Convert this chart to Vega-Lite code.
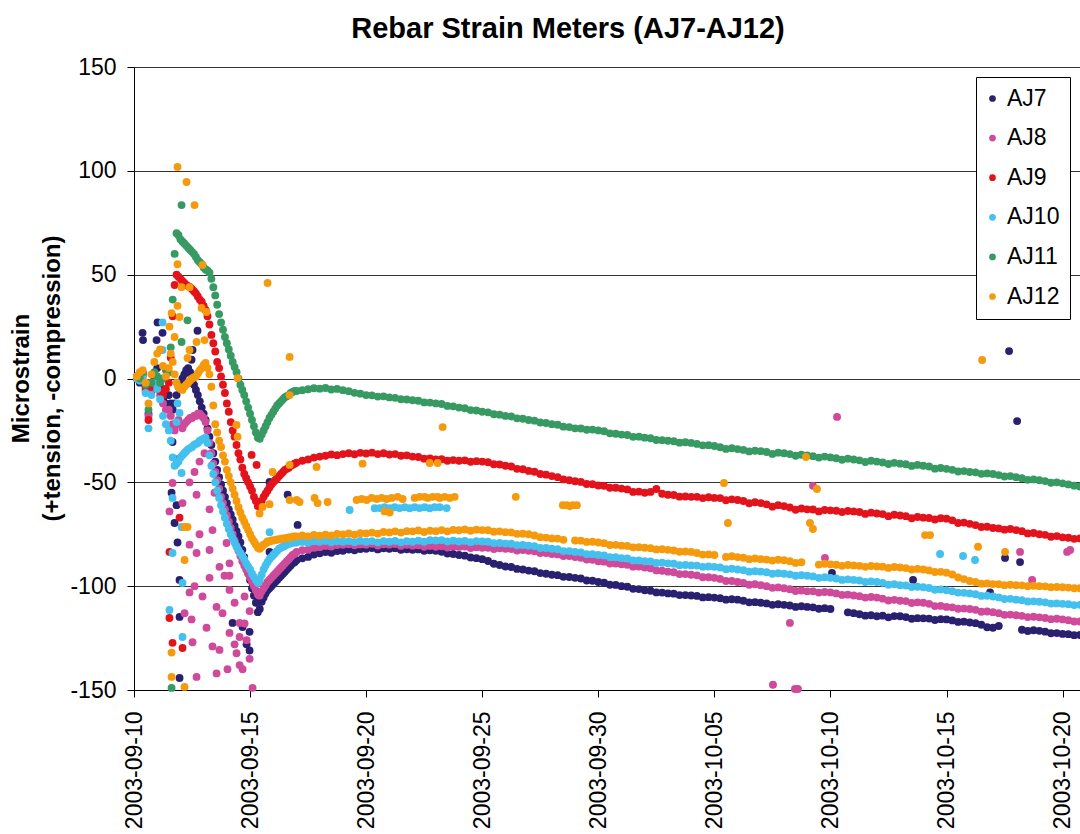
{
"$schema":"https://vega.github.io/schema/vega-lite/v6.json",
"width":946,"height":623,
"autosize":{"type":"none"},
"padding":{"left":134,"top":67,"right":0,"bottom":144},
"background":"white",
"title":{"text":"Rebar Strain Meters (AJ7-AJ12)","fontSize":29,"fontWeight":"bold","color":"black","anchor":"middle","frame":"group","dx":-39,"offset":12},
"data":{"values":[
{"t":"2003-09-10T03:00","AJ7":0,"AJ8":0,"AJ9":1,"AJ10":0,"AJ11":1,"AJ12":1},
{"t":"2003-09-10T06:00","AJ7":-2,"AJ8":-1,"AJ9":0,"AJ10":-1,"AJ11":0,"AJ12":3},
{"t":"2003-09-10T09:00","AJ7":3,"AJ8":1,"AJ9":2,"AJ10":1,"AJ11":3,"AJ12":4},
{"t":"2003-09-10T12:00","AJ7":-4,"AJ8":-6,"AJ9":-5,"AJ10":-7,"AJ11":-3,"AJ12":-2},
{"t":"2003-09-10T15:00","AJ7":-17,"AJ8":-18,"AJ9":-20,"AJ10":-24,"AJ11":-15,"AJ12":-12},
{"t":"2003-09-10T18:00","AJ7":-6,"AJ8":-5,"AJ9":-4,"AJ10":-8,"AJ11":-2,"AJ12":2},
{"t":"2003-09-10T21:00","AJ7":2,"AJ8":0,"AJ9":1,"AJ10":-2,"AJ11":3,"AJ12":8},
{"t":"2003-09-11T00:00","AJ7":5,"AJ8":-3,"AJ9":-2,"AJ10":-5,"AJ11":1,"AJ12":12},
{"t":"2003-09-11T03:00","AJ7":-4,"AJ8":-8,"AJ9":-6,"AJ10":-10,"AJ11":-2,"AJ12":14},
{"t":"2003-09-11T06:00","AJ7":-10,"AJ8":-12,"AJ9":-8,"AJ10":-18,"AJ11":0,"AJ12":6},
{"t":"2003-09-11T09:00","AJ7":-12,"AJ8":-15,"AJ9":-5,"AJ10":-22,"AJ11":4,"AJ12":1},
{"t":"2003-09-11T12:00","AJ7":-8,"AJ8":-15,"AJ9":-2,"AJ10":-25,"AJ11":3,"AJ12":5},
{"t":"2003-09-11T14:00","AJ7":-12,"AJ8":-18,"AJ9":10,"AJ10":-30,"AJ11":15,"AJ12":12},
{"t":"2003-09-11T16:00","AJ7":-15,"AJ8":-22,"AJ9":30,"AJ10":-38,"AJ11":38,"AJ12":8},
{"t":"2003-09-11T18:00","AJ7":-12,"AJ8":-25,"AJ9":45,"AJ10":-42,"AJ11":60,"AJ12":2},
{"t":"2003-09-11T20:00","AJ7":-8,"AJ8":-22,"AJ9":50,"AJ10":-41,"AJ11":70,"AJ12":-2},
{"t":"2003-09-11T22:00","AJ7":-4,"AJ8":-20,"AJ9":49,"AJ10":-40,"AJ11":69,"AJ12":-4},
{"t":"2003-09-12T00:00","AJ7":-2,"AJ8":-22,"AJ9":48,"AJ10":-38,"AJ11":67,"AJ12":-5},
{"t":"2003-09-12T02:00","AJ7":0,"AJ8":-24,"AJ9":47,"AJ10":-37,"AJ11":66,"AJ12":-5.5},
{"t":"2003-09-12T04:00","AJ7":2,"AJ8":-22,"AJ9":46,"AJ10":-36,"AJ11":65,"AJ12":-4},
{"t":"2003-09-12T06:00","AJ7":4,"AJ8":-21,"AJ9":45,"AJ10":-35,"AJ11":64,"AJ12":-3},
{"t":"2003-09-12T08:00","AJ7":5,"AJ8":-20,"AJ9":44.5,"AJ10":-34,"AJ11":63,"AJ12":-2},
{"t":"2003-09-12T10:00","AJ7":3,"AJ8":-19,"AJ9":44,"AJ10":-33.5,"AJ11":62,"AJ12":-1},
{"t":"2003-09-12T12:00","AJ7":0,"AJ8":-19,"AJ9":43,"AJ10":-33,"AJ11":61,"AJ12":0},
{"t":"2003-09-12T14:00","AJ7":-3,"AJ8":-18,"AJ9":42,"AJ10":-32,"AJ11":60,"AJ12":0.5},
{"t":"2003-09-12T16:00","AJ7":-5.5,"AJ8":-18,"AJ9":41,"AJ10":-31.5,"AJ11":58.5,"AJ12":1},
{"t":"2003-09-12T18:00","AJ7":-8,"AJ8":-17,"AJ9":39.5,"AJ10":-31,"AJ11":57,"AJ12":2.5},
{"t":"2003-09-12T20:00","AJ7":-11,"AJ8":-17,"AJ9":38,"AJ10":-30,"AJ11":56,"AJ12":4},
{"t":"2003-09-12T22:00","AJ7":-14,"AJ8":-18,"AJ9":37,"AJ10":-29.5,"AJ11":55,"AJ12":5},
{"t":"2003-09-13T00:00","AJ7":-17,"AJ8":-19,"AJ9":35,"AJ10":-29,"AJ11":53.5,"AJ12":6.5},
{"t":"2003-09-13T02:00","AJ7":-20,"AJ8":-21,"AJ9":33,"AJ10":-28.5,"AJ11":52.5,"AJ12":7.5},
{"t":"2003-09-13T04:00","AJ7":-24,"AJ8":-25,"AJ9":30,"AJ10":-31,"AJ11":52,"AJ12":5},
{"t":"2003-09-13T06:00","AJ7":-28,"AJ8":-31,"AJ9":26,"AJ10":-37,"AJ11":51,"AJ12":2},
{"t":"2003-09-13T08:00","AJ7":-32,"AJ8":-36,"AJ9":21,"AJ10":-42,"AJ11":48,"AJ12":-4},
{"t":"2003-09-13T10:00","AJ7":-36,"AJ8":-41,"AJ9":17,"AJ10":-46,"AJ11":44,"AJ12":-13},
{"t":"2003-09-13T12:00","AJ7":-40,"AJ8":-45,"AJ9":13,"AJ10":-50,"AJ11":40,"AJ12":-22},
{"t":"2003-09-13T14:00","AJ7":-44,"AJ8":-49,"AJ9":8,"AJ10":-54,"AJ11":35.5,"AJ12":-26},
{"t":"2003-09-13T16:00","AJ7":-47.5,"AJ8":-53,"AJ9":5,"AJ10":-57.5,"AJ11":31,"AJ12":-30},
{"t":"2003-09-13T18:00","AJ7":-51,"AJ8":-57,"AJ9":1,"AJ10":-61,"AJ11":27,"AJ12":-33},
{"t":"2003-09-13T20:00","AJ7":-54,"AJ8":-60,"AJ9":-3,"AJ10":-64,"AJ11":23.5,"AJ12":-37},
{"t":"2003-09-13T22:00","AJ7":-57,"AJ8":-63,"AJ9":-7,"AJ10":-67,"AJ11":20,"AJ12":-40},
{"t":"2003-09-14T00:00","AJ7":-60,"AJ8":-66,"AJ9":-12,"AJ10":-70,"AJ11":17,"AJ12":-44},
{"t":"2003-09-14T02:00","AJ7":-63,"AJ8":-69,"AJ9":-16,"AJ10":-72.5,"AJ11":14,"AJ12":-47},
{"t":"2003-09-14T04:00","AJ7":-65.5,"AJ8":-72,"AJ9":-21,"AJ10":-75,"AJ11":11,"AJ12":-50},
{"t":"2003-09-14T06:00","AJ7":-68,"AJ8":-75,"AJ9":-25,"AJ10":-77,"AJ11":8,"AJ12":-53},
{"t":"2003-09-14T08:00","AJ7":-71,"AJ8":-78,"AJ9":-28,"AJ10":-79,"AJ11":5.5,"AJ12":-56},
{"t":"2003-09-14T10:00","AJ7":-73.5,"AJ8":-80.5,"AJ9":-32,"AJ10":-81,"AJ11":3,"AJ12":-59},
{"t":"2003-09-14T12:00","AJ7":-76,"AJ8":-83,"AJ9":-36,"AJ10":-82.5,"AJ11":0,"AJ12":-62},
{"t":"2003-09-14T14:00","AJ7":-79,"AJ8":-85.5,"AJ9":-39,"AJ10":-84,"AJ11":-3,"AJ12":-64.5},
{"t":"2003-09-14T16:00","AJ7":-82.5,"AJ8":-88,"AJ9":-43,"AJ10":-85.5,"AJ11":-5.5,"AJ12":-67},
{"t":"2003-09-14T18:00","AJ7":-86,"AJ8":-90,"AJ9":-46,"AJ10":-87,"AJ11":-8,"AJ12":-69},
{"t":"2003-09-14T20:00","AJ7":-90,"AJ8":-92,"AJ9":-48,"AJ10":-89,"AJ11":-11,"AJ12":-71},
{"t":"2003-09-14T22:00","AJ7":-93.5,"AJ8":-94,"AJ9":-50,"AJ10":-90.5,"AJ11":-14,"AJ12":-73},
{"t":"2003-09-15T00:00","AJ7":-97,"AJ8":-96,"AJ9":-52,"AJ10":-92,"AJ11":-17,"AJ12":-75},
{"t":"2003-09-15T02:00","AJ7":-101,"AJ8":-98,"AJ9":-54,"AJ10":-94,"AJ11":-20,"AJ12":-77},
{"t":"2003-09-15T04:00","AJ7":-104.5,"AJ8":-100,"AJ9":-57,"AJ10":-95.5,"AJ11":-23,"AJ12":-78.5},
{"t":"2003-09-15T06:00","AJ7":-108,"AJ8":-102,"AJ9":-59,"AJ10":-97,"AJ11":-26,"AJ12":-80},
{"t":"2003-09-15T08:00","AJ7":-112.5,"AJ8":-104,"AJ9":-61.5,"AJ10":-98.5,"AJ11":-28.5,"AJ12":-81.5},
{"t":"2003-09-15T10:00","AJ7":-111,"AJ8":-104.5,"AJ9":-61,"AJ10":-97,"AJ11":-29,"AJ12":-82},
{"t":"2003-09-15T12:00","AJ7":-107.5,"AJ8":-102.5,"AJ9":-59,"AJ10":-94.5,"AJ11":-27,"AJ12":-81},
{"t":"2003-09-15T14:00","AJ7":-105.5,"AJ8":-101,"AJ9":-57,"AJ10":-92,"AJ11":-25,"AJ12":-80},
{"t":"2003-09-15T16:00","AJ7":-103.5,"AJ8":-99.5,"AJ9":-55.5,"AJ10":-90,"AJ11":-23,"AJ12":-79.5},
{"t":"2003-09-15T18:00","AJ7":-102,"AJ8":-98,"AJ9":-54,"AJ10":-88.5,"AJ11":-21,"AJ12":-78.5},
{"t":"2003-09-15T20:00","AJ7":-101,"AJ8":-97,"AJ9":-52.5,"AJ10":-87,"AJ11":-19,"AJ12":-78.5},
{"t":"2003-09-15T22:00","AJ7":-100,"AJ8":-96,"AJ9":-51,"AJ10":-86,"AJ11":-17.5,"AJ12":-78},
{"t":"2003-09-16T00:00","AJ7":-99,"AJ8":-95,"AJ9":-50,"AJ10":-85,"AJ11":-16,"AJ12":-78},
{"t":"2003-09-16T02:00","AJ7":-98,"AJ8":-94,"AJ9":-49,"AJ10":-84,"AJ11":-14.5,"AJ12":-77.8},
{"t":"2003-09-16T04:00","AJ7":-97,"AJ8":-93,"AJ9":-48,"AJ10":-83,"AJ11":-13,"AJ12":-77.5},
{"t":"2003-09-16T06:00","AJ7":-96,"AJ8":-92,"AJ9":-47,"AJ10":-82,"AJ11":-12,"AJ12":-77.5},
{"t":"2003-09-16T08:00","AJ7":-95,"AJ8":-91,"AJ9":-46,"AJ10":-81.5,"AJ11":-11,"AJ12":-77.2},
{"t":"2003-09-16T10:00","AJ7":-94,"AJ8":-90,"AJ9":-45,"AJ10":-81,"AJ11":-10,"AJ12":-77},
{"t":"2003-09-16T12:00","AJ7":-93,"AJ8":-89,"AJ9":-44,"AJ10":-80.5,"AJ11":-9,"AJ12":-77},
{"t":"2003-09-16T14:00","AJ7":-92,"AJ8":-88,"AJ9":-43.5,"AJ10":-80,"AJ11":-8.5,"AJ12":-76.8},
{"t":"2003-09-16T16:00","AJ7":-91,"AJ8":-87,"AJ9":-43,"AJ10":-79.5,"AJ11":-8,"AJ12":-76.5},
{"t":"2003-09-16T18:00","AJ7":-90,"AJ8":-86,"AJ9":-42,"AJ10":-79.5,"AJ11":-7,"AJ12":-76.5},
{"t":"2003-09-16T20:00","AJ7":-89,"AJ8":-85,"AJ9":-41.5,"AJ10":-79,"AJ11":-6.5,"AJ12":-76.2},
{"t":"2003-09-16T22:00","AJ7":-88.5,"AJ8":-84.5,"AJ9":-41,"AJ10":-79,"AJ11":-6,"AJ12":-76},
{"t":"2003-09-17T00:00","AJ7":-87.5,"AJ8":-83.5,"AJ9":-40.5,"AJ10":-79,"AJ11":-6,"AJ12":-76},
{"t":"2003-09-17T06:00","AJ7":-86.6,"AJ8":-82.7,"AJ9":-39.6,"AJ10":-78.7,"AJ11":-5.6,"AJ12":-75.6},
{"t":"2003-09-17T12:00","AJ7":-85.9,"AJ8":-82.4,"AJ9":-39.0,"AJ10":-79.1,"AJ11":-5.2,"AJ12":-76.0},
{"t":"2003-09-17T18:00","AJ7":-84.8,"AJ8":-81.5,"AJ9":-38.1,"AJ10":-78.4,"AJ11":-4.7,"AJ12":-75.3},
{"t":"2003-09-18T00:00","AJ7":-84.2,"AJ8":-81.2,"AJ9":-37.6,"AJ10":-78.6,"AJ11":-4.9,"AJ12":-75.7},
{"t":"2003-09-18T06:00","AJ7":-83.6,"AJ8":-80.6,"AJ9":-37.2,"AJ10":-78.2,"AJ11":-4.6,"AJ12":-75.2},
{"t":"2003-09-18T12:00","AJ7":-83.9,"AJ8":-80.9,"AJ9":-36.6,"AJ10":-78.9,"AJ11":-5.3,"AJ12":-75.6},
{"t":"2003-09-18T18:00","AJ7":-83.1,"AJ8":-80.2,"AJ9":-36.9,"AJ10":-78.4,"AJ11":-5.0,"AJ12":-74.9},
{"t":"2003-09-19T00:00","AJ7":-83.0,"AJ8":-80.1,"AJ9":-36.4,"AJ10":-78.6,"AJ11":-5.6,"AJ12":-75.1},
{"t":"2003-09-19T06:00","AJ7":-82.4,"AJ8":-79.8,"AJ9":-36.0,"AJ10":-78.3,"AJ11":-6.1,"AJ12":-74.6},
{"t":"2003-09-19T12:00","AJ7":-82.7,"AJ8":-80.3,"AJ9":-36.5,"AJ10":-78.8,"AJ11":-6.9,"AJ12":-75.2},
{"t":"2003-09-19T18:00","AJ7":-82.1,"AJ8":-79.9,"AJ9":-35.8,"AJ10":-78.2,"AJ11":-7.3,"AJ12":-74.5},
{"t":"2003-09-20T00:00","AJ7":-82.0,"AJ8":-80.0,"AJ9":-36.1,"AJ10":-78.6,"AJ11":-8.0,"AJ12":-74.6},
{"t":"2003-09-20T06:00","AJ7":-81.6,"AJ8":-79.6,"AJ9":-35.7,"AJ10":-78.3,"AJ11":-8.1,"AJ12":-74.2},
{"t":"2003-09-20T12:00","AJ7":-82.3,"AJ8":-80.4,"AJ9":-36.4,"AJ10":-78.9,"AJ11":-8.7,"AJ12":-74.7},
{"t":"2003-09-20T18:00","AJ7":-81.8,"AJ8":-79.8,"AJ9":-36.0,"AJ10":-78.3,"AJ11":-8.6,"AJ12":-73.9},
{"t":"2003-09-21T00:00","AJ7":-82.0,"AJ8":-80.0,"AJ9":-36.6,"AJ10":-78.6,"AJ11":-9.1,"AJ12":-74.1},
{"t":"2003-09-21T06:00","AJ7":-81.7,"AJ8":-79.7,"AJ9":-36.4,"AJ10":-78.2,"AJ11":-9.3,"AJ12":-73.6},
{"t":"2003-09-21T12:00","AJ7":-82.5,"AJ8":-80.6,"AJ9":-37.2,"AJ10":-78.9,"AJ11":-10.0,"AJ12":-74.2},
{"t":"2003-09-21T18:00","AJ7":-82.2,"AJ8":-80.1,"AJ9":-37.0,"AJ10":-78.4,"AJ11":-10.1,"AJ12":-73.5},
{"t":"2003-09-22T00:00","AJ7":-82.5,"AJ8":-80.5,"AJ9":-37.6,"AJ10":-78.6,"AJ11":-10.5,"AJ12":-73.6},
{"t":"2003-09-22T06:00","AJ7":-82.3,"AJ8":-80.3,"AJ9":-37.8,"AJ10":-78.1,"AJ11":-10.7,"AJ12":-73.2},
{"t":"2003-09-22T12:00","AJ7":-83.0,"AJ8":-81.0,"AJ9":-38.6,"AJ10":-78.6,"AJ11":-11.5,"AJ12":-73.9},
{"t":"2003-09-22T18:00","AJ7":-82.7,"AJ8":-80.6,"AJ9":-38.5,"AJ10":-77.9,"AJ11":-11.6,"AJ12":-73.3},
{"t":"2003-09-23T00:00","AJ7":-83.0,"AJ8":-81.0,"AJ9":-39.0,"AJ10":-78.0,"AJ11":-12.0,"AJ12":-73.5},
{"t":"2003-09-23T06:00","AJ7":-83.4,"AJ8":-80.8,"AJ9":-38.9,"AJ10":-77.8,"AJ11":-12.3,"AJ12":-73.0},
{"t":"2003-09-23T12:00","AJ7":-84.3,"AJ8":-81.4,"AJ9":-39.6,"AJ10":-78.5,"AJ11":-13.2,"AJ12":-73.6},
{"t":"2003-09-23T18:00","AJ7":-84.5,"AJ8":-80.9,"AJ9":-39.3,"AJ10":-78.1,"AJ11":-13.4,"AJ12":-72.9},
{"t":"2003-09-24T00:00","AJ7":-85.0,"AJ8":-81.1,"AJ9":-39.6,"AJ10":-78.5,"AJ11":-14.0,"AJ12":-73.1},
{"t":"2003-09-24T06:00","AJ7":-85.3,"AJ8":-80.9,"AJ9":-39.4,"AJ10":-78.2,"AJ11":-14.3,"AJ12":-72.7},
{"t":"2003-09-24T12:00","AJ7":-86.2,"AJ8":-81.6,"AJ9":-40.1,"AJ10":-78.8,"AJ11":-15.2,"AJ12":-73.3},
{"t":"2003-09-24T18:00","AJ7":-86.5,"AJ8":-81.2,"AJ9":-39.8,"AJ10":-78.3,"AJ11":-15.4,"AJ12":-72.8},
{"t":"2003-09-25T00:00","AJ7":-87.0,"AJ8":-81.5,"AJ9":-40.0,"AJ10":-78.5,"AJ11":-16.0,"AJ12":-73.0},
{"t":"2003-09-25T06:00","AJ7":-87.9,"AJ8":-81.5,"AJ9":-40.3,"AJ10":-78.6,"AJ11":-16.3,"AJ12":-73.1},
{"t":"2003-09-25T12:00","AJ7":-89.2,"AJ8":-82.1,"AJ9":-41.3,"AJ10":-79.3,"AJ11":-17.2,"AJ12":-73.8},
{"t":"2003-09-25T18:00","AJ7":-89.8,"AJ8":-81.8,"AJ9":-41.4,"AJ10":-79.2,"AJ11":-17.4,"AJ12":-73.6},
{"t":"2003-09-26T00:00","AJ7":-90.5,"AJ8":-82.0,"AJ9":-42.0,"AJ10":-79.5,"AJ11":-18.0,"AJ12":-74.0},
{"t":"2003-09-26T06:00","AJ7":-90.8,"AJ8":-82.1,"AJ9":-42.4,"AJ10":-79.6,"AJ11":-18.3,"AJ12":-74.1},
{"t":"2003-09-26T12:00","AJ7":-91.7,"AJ8":-82.8,"AJ9":-43.5,"AJ10":-80.3,"AJ11":-19.2,"AJ12":-74.8},
{"t":"2003-09-26T18:00","AJ7":-92.0,"AJ8":-82.6,"AJ9":-43.7,"AJ10":-80.2,"AJ11":-19.4,"AJ12":-74.7},
{"t":"2003-09-27T00:00","AJ7":-92.5,"AJ8":-83.0,"AJ9":-44.5,"AJ10":-80.5,"AJ11":-20.0,"AJ12":-75.0},
{"t":"2003-09-27T06:00","AJ7":-92.8,"AJ8":-83.2,"AJ9":-44.9,"AJ10":-80.7,"AJ11":-20.3,"AJ12":-75.6},
{"t":"2003-09-27T12:00","AJ7":-93.7,"AJ8":-84.0,"AJ9":-46.0,"AJ10":-81.6,"AJ11":-21.2,"AJ12":-76.4},
{"t":"2003-09-27T18:00","AJ7":-94.0,"AJ8":-84.0,"AJ9":-46.3,"AJ10":-81.6,"AJ11":-21.4,"AJ12":-76.6},
{"t":"2003-09-28T00:00","AJ7":-94.5,"AJ8":-84.5,"AJ9":-47.0,"AJ10":-82.0,"AJ11":-22.0,"AJ12":-77.0},
{"t":"2003-09-28T06:00","AJ7":-94.7,"AJ8":-84.7,"AJ9":-47.5,"AJ10":-82.2,"AJ11":-22.3,"AJ12":-77.1},
{"t":"2003-09-28T12:00","AJ7":-95.5,"AJ8":-85.5,"AJ9":-48.6,"AJ10":-83.1,"AJ11":-23.2,"AJ12":-77.7},
{"t":"2003-09-28T18:00","AJ7":-95.6,"AJ8":-85.5,"AJ9":-49.0,"AJ10":-83.1,"AJ11":-23.4},
{"t":"2003-09-29T00:00","AJ7":-96.0,"AJ8":-86.0,"AJ9":-49.5,"AJ10":-83.5,"AJ11":-24.0,"AJ12":-78.0},
{"t":"2003-09-29T06:00","AJ7":-96.3,"AJ8":-86.3,"AJ9":-49.8,"AJ10":-83.7,"AJ11":-24.1,"AJ12":-78.1},
{"t":"2003-09-29T12:00","AJ7":-97.3,"AJ8":-87.2,"AJ9":-50.8,"AJ10":-84.6,"AJ11":-24.7,"AJ12":-78.7},
{"t":"2003-09-29T18:00","AJ7":-97.4,"AJ8":-87.3,"AJ9":-50.9,"AJ10":-84.6,"AJ11":-24.6,"AJ12":-78.6},
{"t":"2003-09-30T00:00","AJ7":-98.0,"AJ8":-88.0,"AJ9":-51.5,"AJ10":-85.0,"AJ11":-25.0,"AJ12":-79.0},
{"t":"2003-09-30T06:00","AJ7":-98.3,"AJ8":-88.2,"AJ9":-51.7,"AJ10":-85.2,"AJ11":-25.4,"AJ12":-79.3},
{"t":"2003-09-30T12:00","AJ7":-99.3,"AJ8":-89.1,"AJ9":-52.6,"AJ10":-86.1,"AJ11":-26.4,"AJ12":-80.2},
{"t":"2003-09-30T18:00","AJ7":-99.4,"AJ8":-89.1,"AJ9":-52.6,"AJ10":-86.1,"AJ11":-26.6,"AJ12":-80.1},
{"t":"2003-10-01T00:00","AJ7":-100.0,"AJ8":-89.5,"AJ9":-53.0,"AJ10":-86.5,"AJ11":-27.0,"AJ12":-80.5},
{"t":"2003-10-01T06:00","AJ7":-100.3,"AJ8":-89.7,"AJ9":-53.4,"AJ10":-86.7,"AJ11":-27.2,"AJ12":-80.6},
{"t":"2003-10-01T12:00","AJ7":-101.3,"AJ8":-90.6,"AJ9":-54.6,"AJ10":-87.6,"AJ11":-28.1,"AJ12":-81.3},
{"t":"2003-10-01T18:00","AJ7":-101.4,"AJ8":-90.5,"AJ9":-54.5,"AJ10":-87.6,"AJ11":-28.0,"AJ12":-81.2},
{"t":"2003-10-02T00:00","AJ7":-102.0,"AJ8":-91.0,"AJ9":-55.0,"AJ10":-88.0,"AJ11":-28.5,"AJ12":-81.5},
{"t":"2003-10-02T06:00","AJ7":-102.2,"AJ8":-91.4,"AJ9":-54.6,"AJ10":-88.1,"AJ11":-28.8,"AJ12":-81.7},
{"t":"2003-10-02T12:00","AJ7":-103.0,"AJ8":-92.4,"AJ9":-53.2,"AJ10":-88.8,"AJ11":-29.6,"AJ12":-82.3},
{"t":"2003-10-02T18:00","AJ7":-103.1,"AJ8":-92.6,"AJ9":-55.5,"AJ10":-88.7,"AJ11":-29.7,"AJ12":-82.2},
{"t":"2003-10-03T00:00","AJ7":-103.5,"AJ8":-93.0,"AJ9":-56.0,"AJ10":-89.0,"AJ11":-30.0,"AJ12":-82.5},
{"t":"2003-10-03T06:00","AJ7":-103.6,"AJ8":-93.3,"AJ9":-56.1,"AJ10":-89.2,"AJ11":-30.2,"AJ12":-82.8},
{"t":"2003-10-03T12:00","AJ7":-104.3,"AJ8":-94.2,"AJ9":-56.9,"AJ10":-89.9,"AJ11":-30.9,"AJ12":-83.4},
{"t":"2003-10-03T18:00","AJ7":-104.3,"AJ8":-94.2,"AJ9":-56.8,"AJ10":-89.8,"AJ11":-30.7,"AJ12":-83.3},
{"t":"2003-10-04T00:00","AJ7":-104.5,"AJ8":-94.5,"AJ9":-57.0,"AJ10":-90.0,"AJ11":-31.0,"AJ12":-83.5},
{"t":"2003-10-04T06:00","AJ7":-104.7,"AJ8":-94.8,"AJ9":-57.0,"AJ10":-90.1,"AJ11":-31.5,"AJ12":-84.0},
{"t":"2003-10-04T12:00","AJ7":-105.4,"AJ8":-95.7,"AJ9":-57.6,"AJ10":-90.7,"AJ11":-32.2,"AJ12":-84.8},
{"t":"2003-10-04T18:00","AJ7":-105.3,"AJ8":-95.7,"AJ9":-57.2,"AJ10":-90.5,"AJ11":-32.1,"AJ12":-84.7},
{"t":"2003-10-05T00:00","AJ7":-105.5,"AJ8":-96.0,"AJ9":-57.5,"AJ10":-90.7,"AJ11":-32.5,"AJ12":-85.0},
{"t":"2003-10-05T06:00","AJ7":-105.8,"AJ8":-96.5,"AJ9":-57.6,"AJ10":-91.0,"AJ11":-33.1},
{"t":"2003-10-05T12:00","AJ7":-106.5,"AJ8":-97.5,"AJ9":-58.6,"AJ10":-91.8,"AJ11":-33.9,"AJ12":-85.9},
{"t":"2003-10-05T18:00","AJ7":-106.3,"AJ8":-97.5,"AJ9":-58.2,"AJ10":-91.6,"AJ11":-33.6,"AJ12":-85.6},
{"t":"2003-10-06T00:00","AJ7":-106.5,"AJ8":-98.0,"AJ9":-58.5,"AJ10":-92.0,"AJ11":-34.0,"AJ12":-86.0},
{"t":"2003-10-06T06:00","AJ7":-107.0,"AJ8":-98.4,"AJ9":-59.0,"AJ10":-92.3,"AJ11":-34.4,"AJ12":-86.3},
{"t":"2003-10-06T12:00","AJ7":-107.8,"AJ8":-99.3,"AJ9":-60.1,"AJ10":-93.0,"AJ11":-35.1,"AJ12":-87.0},
{"t":"2003-10-06T18:00","AJ7":-107.7,"AJ8":-99.1,"AJ9":-59.6,"AJ10":-92.8,"AJ11":-34.8,"AJ12":-86.7},
{"t":"2003-10-07T00:00","AJ7":-108.0,"AJ8":-99.5,"AJ9":-60.0,"AJ10":-93.0,"AJ11":-35.0,"AJ12":-87.0},
{"t":"2003-10-07T06:00","AJ7":-108.3,"AJ8":-100.0,"AJ9":-60.6,"AJ10":-93.3,"AJ11":-35.4,"AJ12":-87.2},
{"t":"2003-10-07T12:00","AJ7":-109.0,"AJ8":-100.8,"AJ9":-61.7,"AJ10":-94.0,"AJ11":-36.3,"AJ12":-87.7},
{"t":"2003-10-07T18:00","AJ7":-108.7,"AJ8":-100.6,"AJ9":-61.0,"AJ10":-93.8,"AJ11":-35.7,"AJ12":-87.3},
{"t":"2003-10-08T00:00","AJ7":-109.0,"AJ8":-101.0,"AJ9":-61.5,"AJ10":-94.0,"AJ11":-36.0,"AJ12":-87.5},
{"t":"2003-10-08T06:00","AJ7":-109.3,"AJ8":-101.5,"AJ9":-62.1,"AJ10":-94.3,"AJ11":-36.4,"AJ12":-88.0},
{"t":"2003-10-08T12:00","AJ7":-110.0,"AJ8":-102.3,"AJ9":-63.2,"AJ10":-95.0,"AJ11":-37.2,"AJ12":-88.8},
{"t":"2003-10-08T18:00","AJ7":-109.7,"AJ8":-102.1,"AJ9":-62.6,"AJ10":-94.7,"AJ11":-36.7,"AJ12":-88.5},
{"t":"2003-10-09T00:00","AJ7":-110.0,"AJ8":-102.5,"AJ9":-63.0,"AJ10":-95.0,"AJ11":-37.0},
{"t":"2003-10-09T06:00","AJ7":-110.2,"AJ8":-102.5,"AJ9":-63.1,"AJ10":-95.3,"AJ11":-37.4},
{"t":"2003-10-09T12:00","AJ7":-110.9,"AJ8":-103.1,"AJ9":-64.0,"AJ10":-96.0,"AJ11":-38.1,"AJ12":-89.6},
{"t":"2003-10-09T18:00","AJ7":-110.6,"AJ8":-102.8,"AJ9":-63.3,"AJ10":-95.7,"AJ11":-37.6,"AJ12":-89.2},
{"t":"2003-10-10T00:00","AJ7":-111.0,"AJ8":-103.0,"AJ9":-63.5,"AJ10":-96.0,"AJ11":-38.0,"AJ12":-89.5},
{"t":"2003-10-10T06:00","AJ8":-103.5,"AJ9":-63.7,"AJ10":-96.3,"AJ11":-38.4,"AJ12":-89.7},
{"t":"2003-10-10T12:00","AJ8":-104.2,"AJ9":-64.3,"AJ10":-97.0,"AJ11":-39.1,"AJ12":-90.2},
{"t":"2003-10-10T18:00","AJ7":-112.6,"AJ8":-104.1,"AJ9":-63.8,"AJ10":-96.7,"AJ11":-38.6,"AJ12":-89.8},
{"t":"2003-10-11T00:00","AJ7":-113.0,"AJ8":-104.5,"AJ9":-64.0,"AJ10":-97.0,"AJ11":-39.0,"AJ12":-90.0},
{"t":"2003-10-11T06:00","AJ7":-113.5,"AJ8":-104.8,"AJ9":-64.3,"AJ10":-97.3,"AJ11":-39.4,"AJ12":-90.2},
{"t":"2003-10-11T12:00","AJ7":-114.2,"AJ8":-105.5,"AJ9":-65.2,"AJ10":-98.0,"AJ11":-40.2,"AJ12":-90.7},
{"t":"2003-10-11T18:00","AJ7":-114.0,"AJ8":-105.2,"AJ9":-64.6,"AJ10":-97.7,"AJ11":-39.6,"AJ12":-90.3},
{"t":"2003-10-12T00:00","AJ7":-114.5,"AJ8":-105.5,"AJ9":-65.0,"AJ10":-98.0,"AJ11":-40.0,"AJ12":-90.5},
{"t":"2003-10-12T06:00","AJ7":-114.2,"AJ8":-106.0,"AJ9":-65.3,"AJ10":-98.4,"AJ11":-40.4,"AJ12":-90.6},
{"t":"2003-10-12T12:00","AJ7":-115.0,"AJ8":-106.9,"AJ9":-66.3,"AJ10":-99.3,"AJ11":-41.2,"AJ12":-91.2},
{"t":"2003-10-12T18:00","AJ7":-114.4,"AJ8":-106.6,"AJ9":-65.6,"AJ10":-99.1,"AJ11":-40.6,"AJ12":-90.8},
{"t":"2003-10-13T00:00","AJ7":-114.5,"AJ8":-107.0,"AJ9":-66.0,"AJ10":-99.5,"AJ11":-41.0,"AJ12":-91.0},
{"t":"2003-10-13T06:00","AJ7":-114.9,"AJ8":-107.2,"AJ9":-66.3,"AJ10":-99.7,"AJ11":-41.3,"AJ12":-91.3},
{"t":"2003-10-13T12:00","AJ7":-115.7,"AJ8":-108.1,"AJ9":-67.3,"AJ10":-100.4,"AJ11":-42.1,"AJ12":-92.0},
{"t":"2003-10-13T18:00","AJ7":-115.4,"AJ8":-107.8,"AJ9":-66.7,"AJ10":-100.3,"AJ11":-41.6,"AJ12":-91.7},
{"t":"2003-10-14T00:00","AJ7":-115.5,"AJ8":-108.0,"AJ9":-67.0,"AJ10":-100.5,"AJ11":-42.0,"AJ12":-92.0},
{"t":"2003-10-14T06:00","AJ7":-115.6,"AJ8":-108.5,"AJ9":-67.2,"AJ10":-100.9,"AJ11":-42.4,"AJ12":-92.4},
{"t":"2003-10-14T12:00","AJ7":-116.3,"AJ8":-109.6,"AJ9":-67.9,"AJ10":-101.7,"AJ11":-43.4,"AJ12":-93.2},
{"t":"2003-10-14T18:00","AJ7":-115.9,"AJ8":-109.5,"AJ9":-67.3,"AJ10":-101.6,"AJ11":-43.1,"AJ12":-93.1},
{"t":"2003-10-15T00:00","AJ7":-116.0,"AJ8":-110.0,"AJ9":-67.5,"AJ10":-102.0,"AJ11":-43.5,"AJ12":-93.5},
{"t":"2003-10-15T06:00","AJ7":-116.5,"AJ8":-110.2,"AJ9":-68.3,"AJ10":-102.4,"AJ11":-44.0,"AJ12":-94.4},
{"t":"2003-10-15T12:00","AJ7":-117.2,"AJ8":-110.9,"AJ9":-69.6,"AJ10":-103.1,"AJ11":-44.8,"AJ12":-95.8},
{"t":"2003-10-15T18:00","AJ7":-117.1,"AJ8":-110.8,"AJ9":-69.4,"AJ10":-103.2,"AJ11":-44.6,"AJ12":-96.6},
{"t":"2003-10-16T00:00","AJ7":-117.5,"AJ8":-111.0,"AJ9":-70.0,"AJ10":-103.5,"AJ11":-45.0,"AJ12":-97.5},
{"t":"2003-10-16T06:00","AJ7":-117.8,"AJ8":-111.4,"AJ9":-70.6,"AJ10":-103.9,"AJ11":-45.2,"AJ12":-98.0},
{"t":"2003-10-16T12:00","AJ7":-118.6,"AJ8":-112.3,"AJ9":-71.5,"AJ10":-104.7,"AJ11":-45.9,"AJ12":-98.8},
{"t":"2003-10-16T18:00","AJ7":-119.8,"AJ8":-112.2,"AJ9":-71.4,"AJ10":-104.6,"AJ11":-45.7,"AJ12":-98.7},
{"t":"2003-10-17T00:00","AJ7":-120.0,"AJ8":-112.5,"AJ9":-72.0,"AJ10":-105.0,"AJ11":-46.0,"AJ12":-99.0},
{"t":"2003-10-17T06:00","AJ7":-119.2,"AJ8":-113.0,"AJ9":-72.2,"AJ10":-105.4,"AJ11":-46.5,"AJ12":-99.1},
{"t":"2003-10-17T12:00","AJ8":-113.8,"AJ9":-72.8,"AJ10":-106.2,"AJ11":-47.2,"AJ12":-99.5},
{"t":"2003-10-17T18:00","AJ8":-113.7,"AJ9":-72.5,"AJ10":-106.1,"AJ11":-47.0,"AJ12":-99.3},
{"t":"2003-10-18T00:00","AJ8":-114.0,"AJ9":-73.0,"AJ10":-106.5,"AJ11":-47.5,"AJ12":-99.5},
{"t":"2003-10-18T06:00","AJ7":-121.0,"AJ8":-114.3,"AJ9":-73.5,"AJ10":-106.8,"AJ11":-48.0,"AJ12":-99.6},
{"t":"2003-10-18T12:00","AJ7":-121.6,"AJ8":-114.9,"AJ9":-74.6,"AJ10":-107.4,"AJ11":-48.8,"AJ12":-100.0},
{"t":"2003-10-18T18:00","AJ7":-121.2,"AJ8":-114.7,"AJ9":-74.4,"AJ10":-107.3,"AJ11":-48.6,"AJ12":-99.8},
{"t":"2003-10-19T00:00","AJ7":-121.5,"AJ8":-115.0,"AJ9":-75.0,"AJ10":-107.5,"AJ11":-49.0,"AJ12":-100.0},
{"t":"2003-10-19T06:00","AJ7":-121.9,"AJ8":-115.3,"AJ9":-75.3,"AJ10":-107.8,"AJ11":-49.4,"AJ12":-100.1},
{"t":"2003-10-19T12:00","AJ7":-122.7,"AJ8":-115.9,"AJ9":-76.2,"AJ10":-108.4,"AJ11":-50.2,"AJ12":-100.5},
{"t":"2003-10-19T18:00","AJ7":-122.6,"AJ8":-115.7,"AJ9":-75.9,"AJ10":-108.3,"AJ11":-50.0,"AJ12":-100.4},
{"t":"2003-10-20T00:00","AJ7":-123.0,"AJ8":-116.0,"AJ9":-76.5,"AJ10":-108.5,"AJ11":-50.5,"AJ12":-100.5},
{"t":"2003-10-20T06:00","AJ7":-123.1,"AJ8":-116.4,"AJ9":-76.7,"AJ10":-108.7,"AJ11":-51.0,"AJ12":-100.7},
{"t":"2003-10-20T12:00","AJ7":-123.6,"AJ8":-117.0,"AJ9":-77.2,"AJ10":-109.1,"AJ11":-51.6,"AJ12":-101.0},
{"t":"2003-10-20T18:00","AJ7":-123.5,"AJ8":-117.0,"AJ9":-77.0,"AJ10":-109.0,"AJ11":-52.0,"AJ12":-101.0},
{"t":"2003-09-11T21:00","AJ12":101.9},
{"t":"2003-09-12T06:20","AJ12":94.6},
{"t":"2003-09-12T14:35","AJ12":83.5},
{"t":"2003-09-12T22:50","AJ12":54.7},
{"t":"2003-09-15T18:05","AJ12":46},
{"t":"2003-09-16T16:55","AJ12":10.4},
{"t":"2003-09-23T07:05","AJ12":-23.4},
{"t":"2003-09-11T21:00","AJ12":55},
{"t":"2003-09-12T01:10","AJ12":44},
{"t":"2003-09-12T09:25","AJ12":44},
{"t":"2003-09-12T21:50","AJ12":34},
{"t":"2003-09-13T03:00","AJ12":32},
{"t":"2003-09-11T21:00","AJ12":35},
{"t":"2003-09-11T14:50","AJ12":31.5},
{"t":"2003-09-11T23:05","AJ12":29.6},
{"t":"2003-09-13T00:55","AJ12":18.5},
{"t":"2003-09-12T16:40","AJ12":17.6},
{"t":"2003-09-12T09:25","AJ12":13.7},
{"t":"2003-09-12T07:20","AJ12":9.9},
{"t":"2003-09-11T17:55","AJ12":20},
{"t":"2003-09-11T12:40","AJ12":25},
{"t":"2003-09-12T07:20","AJ12":-71.5},
{"t":"2003-09-12T04:15","AJ12":-71.5},
{"t":"2003-09-12T04:15","AJ12":-87.4},
{"t":"2003-09-11T14:50","AJ12":-132},
{"t":"2003-09-11T14:50","AJ12":-143.7},
{"t":"2003-09-12T04:15","AJ12":-148.5},
{"t":"2003-09-14T11:05","AJ12":0.2},
{"t":"2003-09-16T16:55","AJ12":-8},
{"t":"2003-09-14T10:00","AJ12":-22.4},
{"t":"2003-09-14T11:05","AJ12":-28},
{"t":"2003-09-15T23:20","AJ12":-45},
{"t":"2003-09-16T16:55","AJ12":-41.6},
{"t":"2003-09-17T20:45","AJ12":-42.6},
{"t":"2003-09-19T20:20","AJ12":-41},
{"t":"2003-09-22T17:40","AJ12":-40.7},
{"t":"2003-09-23T01:55","AJ12":-40.7},
{"t":"2003-09-15T12:55","AJ12":-61.9},
{"t":"2003-09-15T20:10","AJ12":-60.5},
{"t":"2003-09-15T09:50","AJ12":-65},
{"t":"2003-09-16T16:55","AJ12":-58.5},
{"t":"2003-09-17T00:05","AJ12":-58.5},
{"t":"2003-09-17T03:10","AJ12":-59.5},
{"t":"2003-09-17T18:40","AJ12":-57.5},
{"t":"2003-09-17T21:50","AJ12":-60},
{"t":"2003-09-18T08:10","AJ12":-59.5},
{"t":"2003-09-19T14:10","AJ12":-58.5},
{"t":"2003-09-19T19:20","AJ12":-58},
{"t":"2003-09-20T00:30","AJ12":-58.5},
{"t":"2003-09-20T05:40","AJ12":-57.5},
{"t":"2003-09-20T10:55","AJ12":-58},
{"t":"2003-09-20T16:00","AJ12":-57.5},
{"t":"2003-09-20T21:10","AJ12":-58},
{"t":"2003-09-21T02:25","AJ12":-57.5},
{"t":"2003-09-21T08:35","AJ12":-57},
{"t":"2003-09-21T13:45","AJ12":-58},
{"t":"2003-09-22T02:10","AJ12":-57.5},
{"t":"2003-09-22T07:20","AJ12":-57},
{"t":"2003-09-22T12:30","AJ12":-57},
{"t":"2003-09-22T15:35","AJ12":-57.5},
{"t":"2003-09-22T20:50","AJ12":-57},
{"t":"2003-09-23T01:55","AJ12":-57},
{"t":"2003-09-23T04:00","AJ12":-57.5},
{"t":"2003-09-23T09:10","AJ12":-57},
{"t":"2003-09-23T14:25","AJ12":-57.5},
{"t":"2003-09-23T19:30","AJ12":-57},
{"t":"2003-09-20T19:05","AJ12":-64},
{"t":"2003-09-21T00:20","AJ12":-64.5},
{"t":"2003-09-26T10:40","AJ12":-57},
{"t":"2003-09-28T11:20","AJ12":-61},
{"t":"2003-09-28T15:25","AJ12":-61},
{"t":"2003-09-28T18:30","AJ12":-61.5},
{"t":"2003-09-28T21:35","AJ12":-61},
{"t":"2003-09-29T01:50","AJ12":-61},
{"t":"2003-10-05T09:55","AJ12":-50.3},
{"t":"2003-10-05T14:00","AJ12":-69.6},
{"t":"2003-10-08T22:40","AJ12":-37.8},
{"t":"2003-10-09T10:05","AJ12":-53.2},
{"t":"2003-10-09T02:50","AJ12":-69.6},
{"t":"2003-10-09T05:55","AJ12":-72.5},
{"t":"2003-10-14T01:50","AJ12":-75.4},
{"t":"2003-10-14T07:00","AJ12":-75.4},
{"t":"2003-10-16T08:35","AJ12":-81},
{"t":"2003-10-16T12:50","AJ12":8.9},
{"t":"2003-10-17T12:30","AJ12":-83.5},
{"t":"2003-09-10T08:50","AJ7":22},
{"t":"2003-09-10T09:20","AJ7":18.5},
{"t":"2003-09-11T00:20","AJ7":27},
{"t":"2003-09-10T23:20","AJ7":18.5},
{"t":"2003-09-12T17:40","AJ7":23},
{"t":"2003-09-12T12:30","AJ7":13.7},
{"t":"2003-09-12T11:30","AJ7":9},
{"t":"2003-09-11T05:30","AJ7":22},
{"t":"2003-09-11T15:50","AJ7":-30.6},
{"t":"2003-09-11T20:00","AJ7":-39},
{"t":"2003-09-11T14:50","AJ7":-55},
{"t":"2003-09-11T20:00","AJ7":-61},
{"t":"2003-09-11T17:55","AJ7":-69.6},
{"t":"2003-09-11T21:00","AJ7":-79},
{"t":"2003-09-11T23:05","AJ7":-97},
{"t":"2003-09-11T23:05","AJ7":-114.8},
{"t":"2003-09-11T23:05","AJ7":-144.2},
{"t":"2003-09-14T05:55","AJ7":-117.7},
{"t":"2003-09-14T23:30","AJ7":-122},
{"t":"2003-09-14T16:15","AJ7":-119.7},
{"t":"2003-09-14T20:25","AJ7":-128},
{"t":"2003-09-14T23:30","AJ7":-131},
{"t":"2003-09-15T20:10","AJ7":-49.8},
{"t":"2003-09-16T14:50","AJ7":-56},
{"t":"2003-09-17T01:10","AJ7":-70.5},
{"t":"2003-09-15T20:10","AJ7":-83.5},
{"t":"2003-10-10T01:35","AJ7":-93.6},
{"t":"2003-10-13T13:25","AJ7":-97},
{"t":"2003-10-16T21:00","AJ7":-103},
{"t":"2003-10-17T12:30","AJ7":-86.4},
{"t":"2003-10-17T16:40","AJ7":13.2},
{"t":"2003-10-18T01:00","AJ7":-20.5},
{"t":"2003-10-18T04:00","AJ7":-88.4},
{"t":"2003-09-11T15:50","AJ8":-50.3},
{"t":"2003-09-11T12:40","AJ8":-64},
{"t":"2003-09-12T16:40","AJ8":-84},
{"t":"2003-09-12T14:35","AJ8":-100},
{"t":"2003-09-12T09:25","AJ8":-103},
{"t":"2003-09-12T04:15","AJ8":-113},
{"t":"2003-09-12T11:30","AJ8":-116},
{"t":"2003-09-12T12:30","AJ8":-127},
{"t":"2003-09-12T16:40","AJ8":-143.7},
{"t":"2003-09-15T02:35","AJ8":-149},
{"t":"2003-09-13T06:05","AJ8":-63},
{"t":"2003-09-13T09:10","AJ8":-73},
{"t":"2003-09-13T06:05","AJ8":-82.6},
{"t":"2003-09-13T16:25","AJ8":-90.7},
{"t":"2003-09-13T06:05","AJ8":-96},
{"t":"2003-09-14T02:45","AJ8":-89},
{"t":"2003-09-13T13:20","AJ8":-110},
{"t":"2003-09-13T19:30","AJ8":-113},
{"t":"2003-09-14T02:45","AJ8":-122.5},
{"t":"2003-09-13T16:25","AJ8":-130.7},
{"t":"2003-09-13T09:10","AJ8":-129},
{"t":"2003-09-13T13:20","AJ8":-142},
{"t":"2003-09-14T13:10","AJ8":-124.5},
{"t":"2003-09-14T10:00","AJ8":-132.3},
{"t":"2003-09-14T20:25","AJ8":-126},
{"t":"2003-09-14T13:10","AJ8":-117.7},
{"t":"2003-09-14T02:45","AJ8":-101.8},
{"t":"2003-09-13T23:40","AJ8":-79.2},
{"t":"2003-09-13T11:15","AJ8":-55},
{"t":"2003-09-12T19:45","AJ8":-40},
{"t":"2003-09-12T14:35","AJ8":-45},
{"t":"2003-09-13T00:55","AJ8":-36},
{"t":"2003-09-13T21:35","AJ8":-95},
{"t":"2003-09-14T08:00","AJ8":-108},
{"t":"2003-09-14T18:20","AJ8":-105},
{"t":"2003-09-14T23:30","AJ8":-135},
{"t":"2003-09-14T16:15","AJ8":-140},
{"t":"2003-09-14T00:40","AJ8":-140},
{"t":"2003-09-13T03:00","AJ8":-120},
{"t":"2003-09-12T22:50","AJ8":-105},
{"t":"2003-09-12T19:45","AJ8":-75},
{"t":"2003-09-12T09:25","AJ8":-80},
{"t":"2003-09-12T02:10","AJ8":-60},
{"t":"2003-09-12T09:25","AJ8":-50},
{"t":"2003-09-12T16:40","AJ8":-56},
{"t":"2003-09-14T02:45","AJ8":-95},
{"t":"2003-09-14T08:00","AJ8":-128},
{"t":"2003-09-14T13:10","AJ8":-138},
{"t":"2003-09-14T18:20","AJ8":-118},
{"t":"2003-09-14T23:30","AJ8":-112},
{"t":"2003-10-07T12:35","AJ8":-147.5},
{"t":"2003-10-08T06:05","AJ8":-117.7},
{"t":"2003-10-08T11:20","AJ8":-149.5},
{"t":"2003-10-08T14:25","AJ8":-149.5},
{"t":"2003-10-09T05:55","AJ8":-51.7},
{"t":"2003-10-09T18:20","AJ8":-86.4},
{"t":"2003-10-10T06:50","AJ8":-18.5},
{"t":"2003-10-18T04:00","AJ8":-83.5},
{"t":"2003-10-18T16:30","AJ8":-97},
{"t":"2003-10-20T04:40","AJ8":-83.5},
{"t":"2003-10-20T07:50","AJ8":-82.6},
{"t":"2003-09-11T23:05","AJ9":-67},
{"t":"2003-09-11T12:40","AJ9":-83.5},
{"t":"2003-09-11T12:40","AJ9":-115.3},
{"t":"2003-09-11T15:50","AJ9":-127.3},
{"t":"2003-09-12T02:10","AJ9":-129.8},
{"t":"2003-09-15T01:35","AJ9":-36.8},
{"t":"2003-09-15T06:45","AJ9":-41.6},
{"t":"2003-09-12T01:10","AJ10":-45.5},
{"t":"2003-09-11T15:50","AJ10":-57.5},
{"t":"2003-09-12T01:10","AJ10":-71.5},
{"t":"2003-09-11T15:50","AJ10":-84},
{"t":"2003-09-12T02:10","AJ10":-98.5},
{"t":"2003-09-11T12:40","AJ10":-111.5},
{"t":"2003-09-12T02:10","AJ10":-124.5},
{"t":"2003-09-11T21:00","AJ10":-12},
{"t":"2003-09-11T23:05","AJ10":-16.6},
{"t":"2003-09-11T20:00","AJ10":-21},
{"t":"2003-09-11T05:30","AJ10":27},
{"t":"2003-09-11T05:30","AJ10":13.7},
{"t":"2003-09-15T20:10","AJ10":-74},
{"t":"2003-09-19T06:55","AJ10":-63.3},
{"t":"2003-09-20T08:50","AJ10":-62.5},
{"t":"2003-09-20T14:00","AJ10":-62.4},
{"t":"2003-09-20T19:05","AJ10":-62},
{"t":"2003-09-21T00:20","AJ10":-62.5},
{"t":"2003-09-21T05:30","AJ10":-62},
{"t":"2003-09-21T10:40","AJ10":-62.4},
{"t":"2003-09-21T15:50","AJ10":-62},
{"t":"2003-09-21T21:00","AJ10":-62.5},
{"t":"2003-09-22T02:10","AJ10":-62},
{"t":"2003-09-22T07:20","AJ10":-62.4},
{"t":"2003-09-22T12:30","AJ10":-62},
{"t":"2003-09-22T17:40","AJ10":-62.5},
{"t":"2003-09-22T22:50","AJ10":-62},
{"t":"2003-09-23T04:00","AJ10":-62},
{"t":"2003-09-23T11:15","AJ10":-62.4},
{"t":"2003-10-14T17:20","AJ10":-84.5},
{"t":"2003-10-15T17:05","AJ10":-85.5},
{"t":"2003-10-16T05:30","AJ10":-87.4},
{"t":"2003-09-12T01:10","AJ11":83.5},
{"t":"2003-09-12T07:20","AJ11":28},
{"t":"2003-09-12T01:10","AJ11":17.6},
{"t":"2003-09-11T14:50","AJ11":-149}
]},
"encoding":{
"x":{"field":"t","type":"temporal","title":null,
"scale":{"domain":[{"year":2003,"month":9,"date":10},{"year":2003,"month":10,"date":20,"hours":18}]},
"axis":{"values":[{"year":2003,"month":9,"date":10},{"year":2003,"month":9,"date":15},{"year":2003,"month":9,"date":20},{"year":2003,"month":9,"date":25},{"year":2003,"month":9,"date":30},{"year":2003,"month":10,"date":5},{"year":2003,"month":10,"date":10},{"year":2003,"month":10,"date":15},{"year":2003,"month":10,"date":20}],
"format":"%Y-%m-%d","labelAngle":270,"labelFlush":false,"labelOverlap":false,"grid":false}}
},
"layer":[
{"mark":{"type":"point","filled":true,"size":62,"opacity":1,"shape":"circle","invalid":"filter"},
"encoding":{"y":{"field":"AJ7","type":"quantitative","scale":{"domain":[-150,150]},"title":["Microstrain","(+tension, -compression)"],"axis":{"values":[-150,-100,-50,0,50,100,150],"labelExpr":"'' + datum.value"}},
"color":{"datum":"AJ7","type":"nominal","title":null,"scale":{"domain":["AJ7","AJ8","AJ9","AJ10","AJ11","AJ12"],"range":["#2a2070","#cf4a9a","#e3131b","#44c0ee","#379a62","#f59a0c"]}}}},
{"mark":{"type":"point","filled":true,"size":62,"opacity":1,"shape":"circle","invalid":"filter"},
"encoding":{"y":{"field":"AJ8","type":"quantitative","scale":{"domain":[-150,150]},"title":["Microstrain","(+tension, -compression)"],"axis":{"values":[-150,-100,-50,0,50,100,150],"labelExpr":"'' + datum.value"}},
"color":{"datum":"AJ8","type":"nominal","title":null,"scale":{"domain":["AJ7","AJ8","AJ9","AJ10","AJ11","AJ12"],"range":["#2a2070","#cf4a9a","#e3131b","#44c0ee","#379a62","#f59a0c"]}}}},
{"mark":{"type":"point","filled":true,"size":62,"opacity":1,"shape":"circle","invalid":"filter"},
"encoding":{"y":{"field":"AJ9","type":"quantitative","scale":{"domain":[-150,150]},"title":["Microstrain","(+tension, -compression)"],"axis":{"values":[-150,-100,-50,0,50,100,150],"labelExpr":"'' + datum.value"}},
"color":{"datum":"AJ9","type":"nominal","title":null,"scale":{"domain":["AJ7","AJ8","AJ9","AJ10","AJ11","AJ12"],"range":["#2a2070","#cf4a9a","#e3131b","#44c0ee","#379a62","#f59a0c"]}}}},
{"mark":{"type":"point","filled":true,"size":62,"opacity":1,"shape":"circle","invalid":"filter"},
"encoding":{"y":{"field":"AJ10","type":"quantitative","scale":{"domain":[-150,150]},"title":["Microstrain","(+tension, -compression)"],"axis":{"values":[-150,-100,-50,0,50,100,150],"labelExpr":"'' + datum.value"}},
"color":{"datum":"AJ10","type":"nominal","title":null,"scale":{"domain":["AJ7","AJ8","AJ9","AJ10","AJ11","AJ12"],"range":["#2a2070","#cf4a9a","#e3131b","#44c0ee","#379a62","#f59a0c"]}}}},
{"mark":{"type":"point","filled":true,"size":62,"opacity":1,"shape":"circle","invalid":"filter"},
"encoding":{"y":{"field":"AJ11","type":"quantitative","scale":{"domain":[-150,150]},"title":["Microstrain","(+tension, -compression)"],"axis":{"values":[-150,-100,-50,0,50,100,150],"labelExpr":"'' + datum.value"}},
"color":{"datum":"AJ11","type":"nominal","title":null,"scale":{"domain":["AJ7","AJ8","AJ9","AJ10","AJ11","AJ12"],"range":["#2a2070","#cf4a9a","#e3131b","#44c0ee","#379a62","#f59a0c"]}}}},
{"mark":{"type":"point","filled":true,"size":62,"opacity":1,"shape":"circle","invalid":"filter"},
"encoding":{"y":{"field":"AJ12","type":"quantitative","scale":{"domain":[-150,150]},"title":["Microstrain","(+tension, -compression)"],"axis":{"values":[-150,-100,-50,0,50,100,150],"labelExpr":"'' + datum.value"}},
"color":{"datum":"AJ12","type":"nominal","title":null,"scale":{"domain":["AJ7","AJ8","AJ9","AJ10","AJ11","AJ12"],"range":["#2a2070","#cf4a9a","#e3131b","#44c0ee","#379a62","#f59a0c"]}}}}
],
"config":{
"font":"Liberation Sans",
"view":{"stroke":null},
"axis":{"labelColor":"black","domainColor":"black","tickColor":"black","titleColor":"black","labelFontSize":23,"tickSize":7,"domainWidth":1,"tickWidth":1},
"axisX":{"labelPadding":14},
"axisY":{"grid":true,"gridColor":"#333333","gridWidth":1,"labelPadding":11,"titleFontSize":24,"titleFontWeight":"bold","titleX":-106,"titleY":311,"titleAngle":270,"titleAlign":"center","titleBaseline":"alphabetic","titleLineHeight":31},
"legend":{"orient":"none","legendX":842,"legendY":10,"padding":10,"strokeColor":"black","strokeWidth":1,"fillColor":"white","labelFontSize":23,"labelColor":"black","symbolSize":45,"symbolType":"circle","rowPadding":15.6,"labelOffset":3,"symbolOffset":-5,"cornerRadius":0}
}
}
